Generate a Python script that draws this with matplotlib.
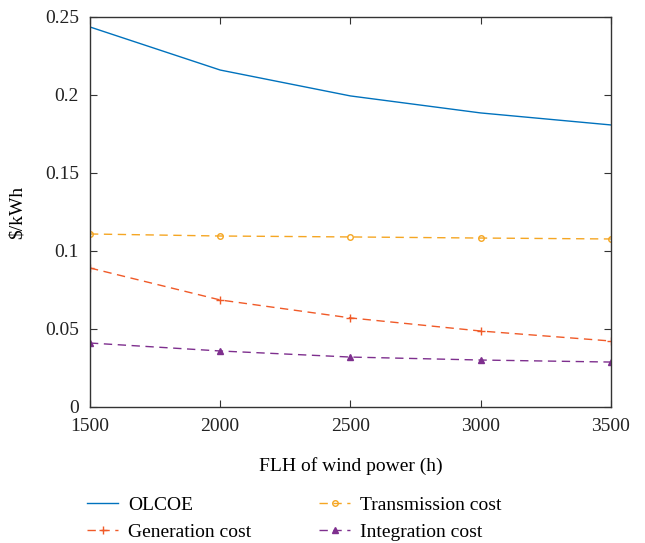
import matplotlib.pyplot as plt
import numpy as np

plt.rcParams['font.family'] = ['Liberation Serif', 'DejaVu Serif']

flh = [1500, 2000, 2500, 3000, 3500]
olcoe = [0.2436, 0.2160, 0.1994, 0.1885, 0.1808]
transmission = [0.1109, 0.1096, 0.1090, 0.1083, 0.1077]
generation = [0.0891, 0.0686, 0.0571, 0.0487, 0.0423]
integration = [0.0410, 0.0359, 0.0320, 0.0301, 0.0288]

fig = plt.figure(figsize=(6.45, 5.43), dpi=100)
ax = fig.add_axes([0.1395, 0.2505, 0.8075, 0.7182])

ax.plot(flh, olcoe, color='#0072BD', lw=1.0, label='OLCOE')
ax.plot(flh, transmission, color='#F5A623', lw=1.0, ls=(0, (6, 4)), marker='o',
        ms=4, mfc='none', mew=1.0, label='Transmission cost')
ax.plot(flh, generation, color='#F05A28', lw=1.0, ls=(0, (6, 4)), marker='+',
        ms=6, mew=1.0, label='Generation cost')
ax.plot(flh, integration, color='#7E2F8E', lw=1.0, ls=(0, (6, 4)), marker='^',
        ms=4, mew=1.0, label='Integration cost')

ax.set_xlim(1500, 3500)
ax.set_ylim(0, 0.25)
ax.set_xticks([1500, 2000, 2500, 3000, 3500])
ax.set_yticks([0, 0.05, 0.1, 0.15, 0.2, 0.25])
ax.set_yticklabels(['0', '0.05', '0.1', '0.15', '0.2', '0.25'])
ax.tick_params(direction='in', top=True, right=True, labelsize=14, length=5,
               color='#333333', labelcolor='#222222')
ax.tick_params(axis='x', pad=8)
ax.tick_params(axis='y', pad=8)
for s in ax.spines.values():
    s.set_color('#333333')
    s.set_linewidth(1.0)

ax.set_xlabel('FLH of wind power (h)', fontsize=14, labelpad=16)
ax.set_ylabel('$/kWh', fontsize=14, labelpad=14)

handles, labels = ax.get_legend_handles_labels()
order = [0, 2, 1, 3]
fig.legend([handles[i] for i in order], [labels[i] for i in order],
           loc='upper left', bbox_to_anchor=(0.12, 0.104), ncol=2, frameon=False,
           fontsize=14, handlelength=1.6, handletextpad=0.5,
           columnspacing=3.5, labelspacing=0.5, borderpad=0)

fig.savefig('out.png', dpi=100)
